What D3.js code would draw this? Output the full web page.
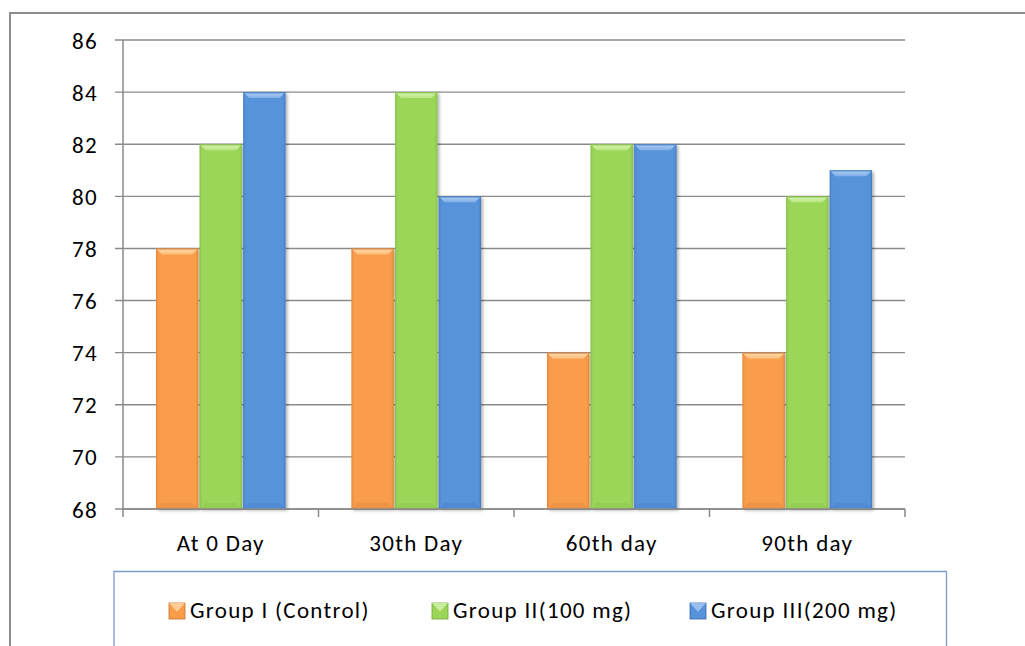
<!DOCTYPE html>
<html>
<head>
<meta charset="utf-8">
<script src="https://cdn.jsdelivr.net/npm/d3@7"></script>
<style>
  html, body { margin: 0; padding: 0; background: #fff; }
  svg { display: block; }
  text { font-family: Carlito, Lato, "Open Sans", sans-serif; fill: #000; }
</style>
</head>
<body>
<div id="chart"></div>
<script>
// Time points and measured values per group
const categories = ["At 0 Day", "30th Day", "60th day", "90th day"];
const seriesNames = ["Group I (Control)", "Group II(100 mg)", "Group III(200 mg)"];
const groupI = [78, 78, 74, 74];
const groupII = [82, 84, 82, 80];
const groupIII = [84, 80, 82, 81];
const yTicks = [68, 70, 72, 74, 76, 78, 80, 82, 84, 86];

const seriesValues = [groupI, groupII, groupIII];
const colors = ["#F99D4B", "#9BD659", "#5793DB"];
const darks = ["#C9702A", "#72A83A", "#3568AD"];
const lights = ["#FFD9A8", "#D6F3AE", "#A9CBF3"];

const W = 1025, H = 646;
const plot = { left: 123, right: 905, top: 40, bottom: 509 };
const FONT = "23px";
const SPACING = "1.3px";

const svg = d3.select("#chart").append("svg")
  .attr("width", W).attr("height", H);

const defs = svg.append("defs");
const shadow = defs.append("filter").attr("id", "shadow")
  .attr("x", "-20%").attr("y", "-5%").attr("width", "150%").attr("height", "115%");
shadow.append("feDropShadow").attr("dx", 2).attr("dy", 1.5)
  .attr("stdDeviation", 1.8).attr("flood-color", "#000").attr("flood-opacity", 0.3);

colors.forEach((c, i) => {
  const g = defs.append("linearGradient").attr("id", "hg" + i)
    .attr("x1", 0).attr("x2", 1).attr("y1", 0).attr("y2", 0);
  g.append("stop").attr("offset", 0).attr("stop-color", darks[i]).attr("stop-opacity", 0.55);
  g.append("stop").attr("offset", 0.08).attr("stop-color", c).attr("stop-opacity", 0);
  g.append("stop").attr("offset", 0.92).attr("stop-color", c).attr("stop-opacity", 0);
  g.append("stop").attr("offset", 1).attr("stop-color", darks[i]).attr("stop-opacity", 0.6);
  const t = defs.append("linearGradient").attr("id", "tg" + i)
    .attr("x1", 0).attr("x2", 0).attr("y1", 0).attr("y2", 1);
  t.append("stop").attr("offset", 0).attr("stop-color", darks[i]).attr("stop-opacity", 0.5);
  t.append("stop").attr("offset", 0.3).attr("stop-color", lights[i]).attr("stop-opacity", 0.9);
  t.append("stop").attr("offset", 1).attr("stop-color", lights[i]).attr("stop-opacity", 0.5);
});

// Outer frame
svg.append("path")
  .attr("d", `M10,${H} L10,13 L${W},13`)
  .attr("fill", "none").attr("stroke", "#8c8c8c").attr("stroke-width", 2);

const x0 = d3.scaleBand().domain(categories).range([plot.left, plot.right]).paddingInner(0).paddingOuter(0);
const groupPad = 33;
const x1 = d3.scaleBand().domain(d3.range(seriesNames.length))
  .range([groupPad, x0.bandwidth() - groupPad]).paddingInner(0.03);
const y = d3.scaleLinear().domain([68, 86]).range([plot.bottom, plot.top]);

// Gridlines
svg.append("g").selectAll("line").data(yTicks).join("line")
  .attr("x1", plot.left - 8).attr("x2", plot.right)
  .attr("y1", d => y(d)).attr("y2", d => y(d))
  .attr("stroke", "#8a8a8a").attr("stroke-width", 1.4);

// Y axis labels
const yAxis = d3.axisLeft(y).tickValues(yTicks).tickSize(0).tickPadding(25);
const yg = svg.append("g").attr("transform", `translate(${plot.left},0)`).call(yAxis);
yg.select(".domain").remove();
yg.selectAll("text").attr("dy", "0.35em")
  .style("font-size", FONT).style("letter-spacing", SPACING)
  .style("font-family", "Carlito, Lato, sans-serif").attr("fill", "#000");

// Vertical axis line
svg.append("line").attr("x1", plot.left).attr("x2", plot.left)
  .attr("y1", plot.top).attr("y2", plot.bottom + 1)
  .attr("stroke", "#8a8a8a").attr("stroke-width", 1.5);

// Bars
const bars = svg.append("g");
categories.forEach((cat, ci) => {
  seriesValues.forEach((vals, si) => {
    const v = vals[ci];
    const bx = x0(cat) + x1(si);
    const bw = x1.bandwidth();
    const by = y(v);
    const bh = y(68) - by;
    const g = bars.append("g");
    g.append("rect").attr("x", bx).attr("y", by).attr("width", bw).attr("height", bh)
      .attr("fill", colors[si]).attr("filter", "url(#shadow)");
    g.append("rect").attr("x", bx).attr("y", by).attr("width", bw).attr("height", bh)
      .attr("fill", `url(#hg${si})`);
    const b = 6;
    // top bevel highlight
    g.append("path")
      .attr("d", `M${bx},${by} L${bx + bw},${by} L${bx + bw - b},${by + b} L${bx + b},${by + b} Z`)
      .attr("fill", `url(#tg${si})`);
    // bottom bevel shade
    g.append("path")
      .attr("d", `M${bx},${by + bh} L${bx + bw},${by + bh} L${bx + bw - b},${by + bh - b} L${bx + b},${by + bh - b} Z`)
      .attr("fill", darks[si]).attr("opacity", 0.2);
  });
});

// X axis line and category ticks
svg.append("line").attr("x1", plot.left).attr("x2", plot.right)
  .attr("y1", plot.bottom).attr("y2", plot.bottom)
  .attr("stroke", "#8a8a8a").attr("stroke-width", 1.5);
const bounds = categories.map(c => x0(c)).concat([plot.right]);
svg.append("g").selectAll("line").data(bounds).join("line")
  .attr("x1", d => d).attr("x2", d => d)
  .attr("y1", plot.bottom).attr("y2", plot.bottom + 8)
  .attr("stroke", "#8a8a8a").attr("stroke-width", 1.5);

svg.append("g").selectAll("text").data(categories).join("text")
  .attr("x", d => x0(d) + x0.bandwidth() / 2).attr("y", 551)
  .attr("text-anchor", "middle")
  .style("font-size", FONT).style("letter-spacing", SPACING).text(d => d);

// Legend
svg.append("path")
  .attr("d", `M114,${H} L114,571.5 L946.5,571.5 L946.5,${H}`)
  .attr("fill", "none").attr("stroke", "#7b9bcb").attr("stroke-width", 1.3);

const legendX = [169, 432, 690];
const lg = svg.append("g");
seriesNames.forEach((name, i) => {
  const sx = legendX[i], sy = 603;
  const s = 16;
  lg.append("rect").attr("x", sx).attr("y", sy).attr("width", s).attr("height", s)
    .attr("fill", colors[i]).attr("stroke", darks[i]).attr("stroke-width", 0.8);
  lg.append("path")
    .attr("d", `M${sx},${sy} L${sx + s},${sy} L${sx + s / 2},${sy + s * 0.55} Z`)
    .attr("fill", lights[i]).attr("opacity", 0.8);
  lg.append("text").attr("x", sx + s + 5).attr("y", 618)
    .style("font-size", FONT).style("letter-spacing", SPACING).text(name);
});
</script>
</body>
</html>
